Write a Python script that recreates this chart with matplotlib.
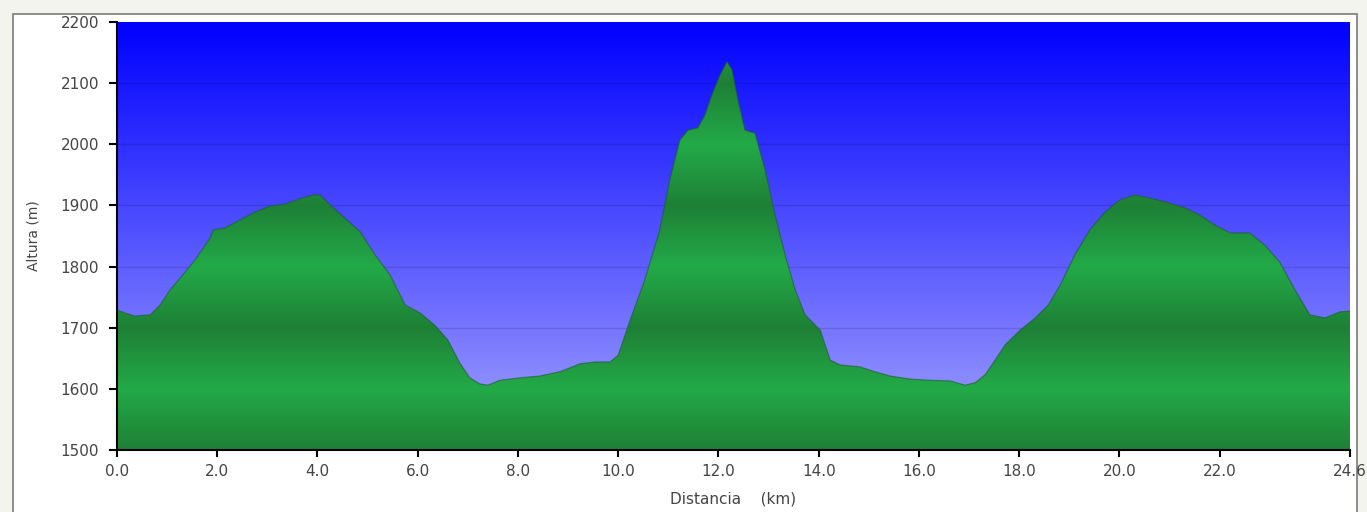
import numpy as np
import matplotlib.pyplot as plt
from matplotlib.patches import Rectangle

# -----------------------------
# Elevation profile
# -----------------------------
distance_km = [
    0.00, 0.16, 0.36, 0.66, 0.86, 1.06, 1.26, 1.56, 1.86, 1.92,
    2.15, 2.45, 2.75, 3.05, 3.35, 3.65, 3.91, 4.05, 4.25, 4.55,
    4.85, 5.15, 5.45, 5.75, 6.05, 6.34, 6.60, 6.84, 7.04, 7.24,
    7.40, 7.64, 8.04, 8.44, 8.84, 9.24, 9.54, 9.84, 10.00, 10.24,
    10.53, 10.83, 11.03, 11.23, 11.39, 11.59, 11.73, 11.87, 12.03, 12.17,
    12.27, 12.39, 12.53, 12.73, 12.93, 13.13, 13.33, 13.53, 13.73, 14.03,
    14.23, 14.43, 14.82, 15.12, 15.42, 15.82, 16.22, 16.62, 16.92, 17.12,
    17.32, 17.52, 17.72, 18.02, 18.32, 18.58, 18.82, 19.11, 19.41, 19.71,
    20.01, 20.31, 20.61, 20.91, 21.31, 21.61, 21.90, 22.21, 22.60, 22.90,
    23.20, 23.50, 23.80, 24.10, 24.40, 24.60,
]
elevation_m = [
    1729, 1724, 1719, 1721, 1737, 1762, 1781, 1811, 1847, 1860,
    1863, 1876, 1889, 1899, 1902, 1911, 1917, 1917, 1901, 1879,
    1857, 1819, 1786, 1737, 1724, 1704, 1680, 1642, 1618, 1608,
    1606, 1614, 1618, 1621, 1628, 1641, 1644, 1644, 1655, 1713,
    1778, 1860, 1942, 2007, 2023, 2027, 2048, 2081, 2113, 2135,
    2122, 2072, 2023, 2018, 1958, 1884, 1819, 1762, 1721, 1696,
    1647, 1639, 1636, 1628, 1621, 1616, 1614, 1613, 1606, 1610,
    1623, 1647, 1672, 1696, 1716, 1737, 1770, 1819, 1860, 1889,
    1909, 1917, 1912, 1906, 1896, 1884, 1868, 1855, 1855, 1835,
    1807, 1762, 1721, 1716, 1726, 1727,
]

x_ticks = [0.0, 2.0, 4.0, 6.0, 8.0, 10.0, 12.0, 14.0, 16.0, 18.0, 20.0, 22.0, 24.6]
y_ticks = [1500, 1600, 1700, 1800, 1900, 2000, 2100, 2200]

x_min, x_max = 0.0, 24.6
y_min, y_max = 1500, 2200

# -----------------------------
# Figure / frame
# -----------------------------
fig = plt.figure(figsize=(13.67, 5.12), dpi=100)
fig.patch.set_facecolor("#f4f4ef")
frame = Rectangle((13 / 1367, -0.05), (1357 - 13) / 1367, 1 - 14 / 512 + 0.05,
                  transform=fig.transFigure, facecolor="white",
                  edgecolor="#7a7a7a", linewidth=1.2, zorder=-5)
fig.patches.append(frame)

ax = fig.add_axes([117 / 1367, 1 - 450 / 512, (1350 - 117) / 1367, (450 - 22) / 512])
ax.set_zorder(1)

# blue sky gradient
n = 400
f = np.linspace(0, 1, n)[:, None]  # 0 = top, 1 = bottom
sky = np.zeros((n, 1, 3))
sky[..., 0] = 165 / 255 * f
sky[..., 1] = 165 / 255 * f
sky[..., 2] = 1.0
ax.imshow(sky, extent=[x_min, x_max, y_min, y_max], aspect="auto",
          origin="upper", zorder=0, interpolation="bilinear")

# grid lines
for yv in y_ticks[1:-1]:
    ax.axhline(yv, color="black", alpha=0.13, linewidth=1.0, zorder=1)

# green ground with banded gradient
levels = np.linspace(y_min, y_max, 800)
phase = ((levels - 1500) / 100.0) % 2.0
bright = 1 - np.abs(phase - 1)
dark_c = np.array([30, 128, 54]) / 255
light_c = np.array([35, 170, 72]) / 255
ground = dark_c[None, :] + (light_c - dark_c)[None, :] * bright[:, None]
ground = ground[:, None, :]
img = ax.imshow(ground, extent=[x_min, x_max, y_min, y_max], aspect="auto",
                origin="lower", zorder=2, interpolation="bilinear")
poly = ax.fill_between(distance_km, elevation_m, y_min, color="none",
                       linewidth=0, zorder=2)
clip = poly.get_paths()[0]
img.set_clip_path(clip, transform=ax.transData)
ax.plot(distance_km, elevation_m, color="#1b5e2e", linewidth=0.9,
        alpha=0.6, zorder=3)

# -----------------------------
# Axes styling
# -----------------------------
ax.set_xlim(x_min, x_max)
ax.set_ylim(y_min, y_max)
ax.set_xticks(x_ticks)
ax.set_xticklabels([f"{v:.1f}" for v in x_ticks])
ax.set_yticks(y_ticks)
ax.tick_params(axis="y", direction="out", length=6, width=1.5, color="black",
               labelsize=11, labelcolor="#444444", pad=7)
ax.tick_params(axis="x", direction="out", length=5, width=1.5, color="black",
               labelsize=11, labelcolor="#444444", pad=5)
for side in ["top", "right"]:
    ax.spines[side].set_visible(False)
for side in ["left", "bottom"]:
    ax.spines[side].set_linewidth(1.5)
    ax.spines[side].set_color("black")
    ax.spines[side].set_zorder(5)

ax.set_xlabel("Distancia    (km)", fontsize=11, color="#444444", labelpad=9)
ax.set_ylabel("Altura (m)", fontsize=10, color="#444444", labelpad=14)

fig.savefig("out.png", dpi=100, facecolor=fig.get_facecolor())
